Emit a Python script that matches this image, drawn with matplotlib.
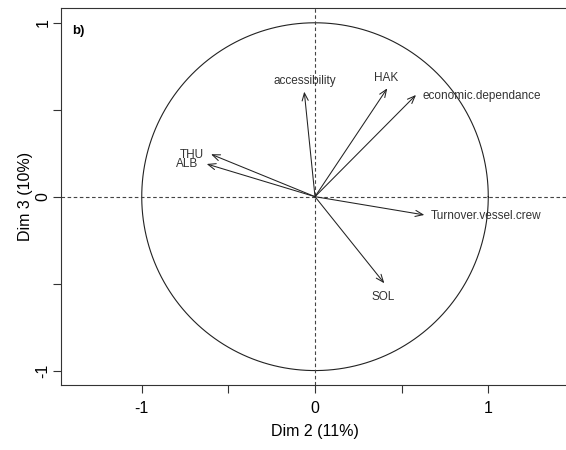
import numpy as np
import matplotlib
matplotlib.use("Agg")
import matplotlib.pyplot as plt

plt.rcParams['font.family'] = ['Liberation Sans', 'DejaVu Sans']

# Data: variable coordinates on Dim 2 and Dim 3
variables = ["accessibility", "HAK", "economic.dependance", "THU", "ALB",
             "Turnover.vessel.crew", "SOL"]
dim2 = [-0.062, 0.417, 0.583, -0.600, -0.625, 0.631, 0.400]
dim3 = [0.604, 0.623, 0.585, 0.244, 0.188, -0.105, -0.498]

xticks = [-1, -0.5, 0, 0.5, 1]
xtick_labels = ["-1", "", "0", "", "1"]
yticks = [-1, -0.5, 0, 0.5, 1]
ytick_labels = ["-1", "", "0", "", "1"]

xlabel = "Dim 2 (11%)"
ylabel = "Dim 3 (10%)"
panel = "b)"

# label placement styles (offset points, ha, va)
label_style = {
    "accessibility": ((0.5, 8), "center", "center"),
    "HAK": ((-1, 7.5), "center", "center"),
    "economic.dependance": ((4.5, -0.5), "left", "center"),
    "THU": ((-5, -0.5), "right", "center"),
    "ALB": ((-6, -0.3), "right", "center"),
    "Turnover.vessel.crew": ((4.8, -0.5), "left", "center"),
    "SOL": ((-0.7, -9.6), "center", "center"),
}

fig = plt.figure(figsize=(5.66, 4.50), dpi=100)
ax = fig.add_axes([61/566, 1-385/450, 508/566, 377/450])

ax.set_xlim(-1.466, 1.466)
ax.set_ylim(-1.083, 1.085)

# unit circle
t = np.linspace(0, 2*np.pi, 400)
ax.plot(np.cos(t), np.sin(t), color="#222222", lw=0.8)

# dashed axes
ax.axhline(0, color="#444444", lw=0.8, dashes=(3.2, 2.3))
ax.axvline(0, color="#444444", lw=0.8, dashes=(3.2, 2.3))

for name, x, y in zip(variables, dim2, dim3):
    ax.annotate("", xy=(x, y), xytext=(0, 0),
                arrowprops=dict(arrowstyle="->,head_length=0.55,head_width=0.22",
                                color="#222222", lw=0.75,
                                shrinkA=0, shrinkB=0),
                fontsize=10)
    off, ha, va = label_style[name]
    ax.annotate(name, xy=(x, y), xytext=off, textcoords="offset points",
                ha=ha, va=va, fontsize=8.5, color="#333333")

ax.set_xticks(xticks)
ax.set_xticklabels(xtick_labels)
ax.set_yticks(yticks)
ax.set_yticklabels(ytick_labels, rotation=90, va="center")
ax.tick_params(axis="both", direction="out", length=5.5, width=0.8,
               color="#333333", labelsize=11.5, labelcolor="black")
ax.tick_params(axis="x", pad=6)
ax.tick_params(axis="y", pad=2)

for s in ax.spines.values():
    s.set_color("#333333")
    s.set_linewidth(0.8)
ax.spines["right"].set_visible(False)

ax.set_xlabel(xlabel, fontsize=11.5)
ax.set_ylabel(ylabel, fontsize=11.5)
ax.xaxis.set_label_coords((315-61)/508, (385-424)/377)
ax.yaxis.set_label_coords((33-61)/508, 0.5)

ax.text((72-61)/508, (385-31)/377, panel, transform=ax.transAxes,
        fontsize=9.5, fontweight="bold", ha="left", va="center")

fig.savefig("out.png", dpi=100)
